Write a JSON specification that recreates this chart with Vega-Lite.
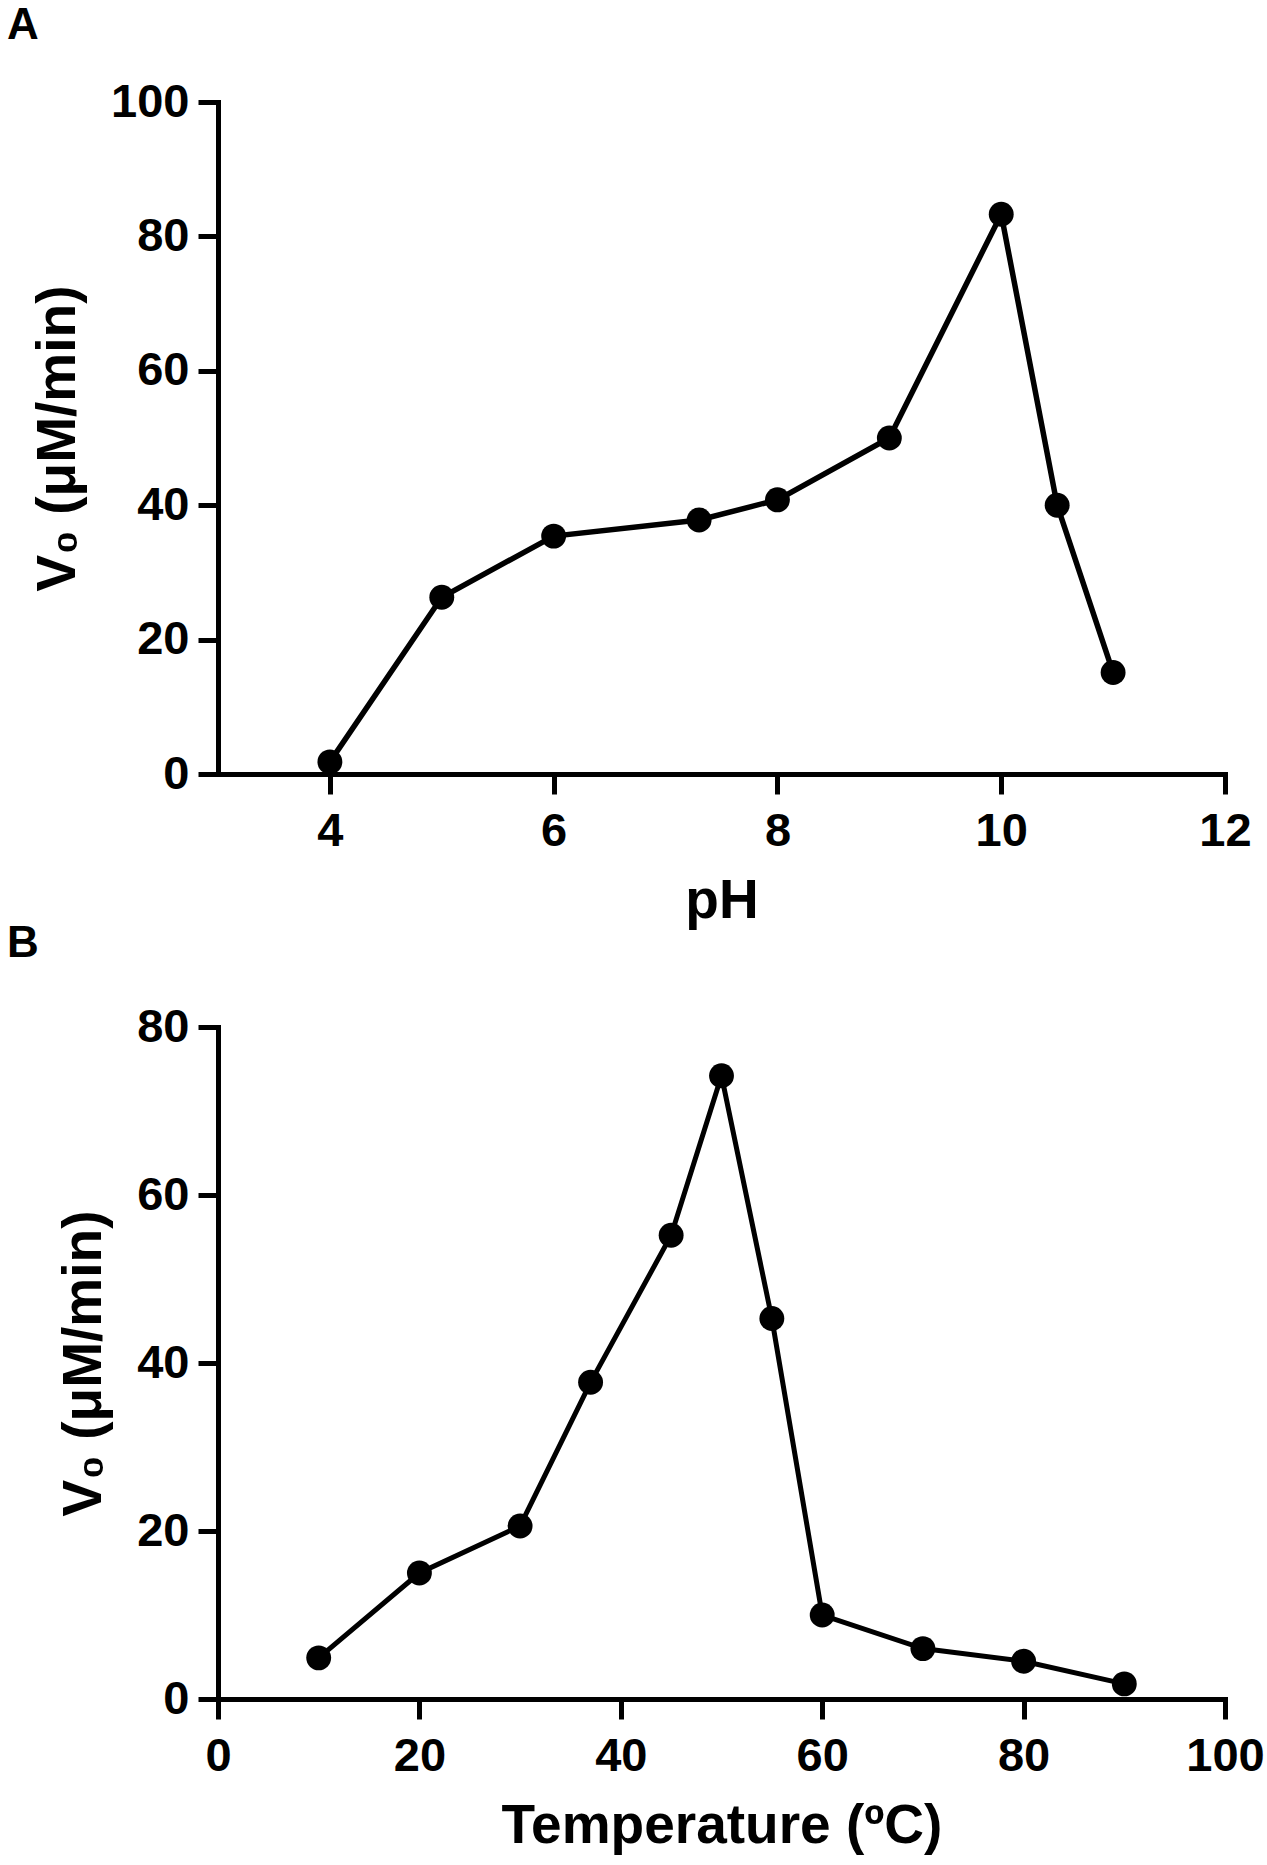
{
  "$schema": "https://vega.github.io/schema/vega-lite/v6.json",
  "background": "white",
  "padding": {"left": 7, "top": 4, "right": 10, "bottom": 5},
  "bounds": "flush",
  "spacing": 253,
  "config": {
    "font": "Liberation Sans",
    "view": {"stroke": null},
    "axis": {
      "grid": false,
      "labelFlush": false,
      "labelOverlap": false,
      "domainColor": "black",
      "domainWidth": 5,
      "domainCap": "square",
      "tickColor": "black",
      "tickWidth": 5,
      "tickSize": 20,
      "labelFont": "Liberation Sans",
      "labelFontSize": 47,
      "labelFontWeight": "bold",
      "labelColor": "black",
      "titleFont": "Liberation Sans",
      "titleFontSize": 55,
      "titleFontWeight": "bold",
      "titleColor": "black"
    },
    "axisX": {"labelPadding": 14, "titlePadding": 20},
    "axisY": {"labelPadding": 9, "titlePadding": 24},
    "title": {"font": "Liberation Sans", "fontSize": 44, "fontWeight": "bold", "color": "black", "anchor": "start", "frame": "group", "baseline": "alphabetic"}
  },
  "vconcat": [
    {
      "title": {"text": "A", "dx": -211, "offset": 30},
      "width": 1007,
      "height": 672,
      "data": {"values": [
        {"pH": 4, "v": 1.8},
        {"pH": 5, "v": 26.3},
        {"pH": 6, "v": 35.4},
        {"pH": 7.3, "v": 37.8},
        {"pH": 8, "v": 40.8},
        {"pH": 9, "v": 50.0},
        {"pH": 10, "v": 83.3},
        {"pH": 10.5, "v": 40.0},
        {"pH": 11, "v": 15.1}
      ]},
      "encoding": {
        "x": {"field": "pH", "type": "quantitative", "scale": {"domain": [3, 12], "nice": false, "zero": false}, "axis": {"values": [4, 6, 8, 10, 12], "title": "pH"}},
        "y": {"field": "v", "type": "quantitative", "scale": {"domain": [0, 100], "nice": false}, "axis": {"values": [0, 20, 40, 60, 80, 100], "title": "V₀ (μM/min)"}}
      },
      "layer": [
        {"mark": {"type": "line", "color": "black", "strokeWidth": 5.5}},
        {"mark": {"type": "point", "filled": true, "color": "black", "opacity": 1, "size": 620}}
      ]
    },
    {
      "title": {"text": "B", "dx": -211, "offset": 37},
      "width": 1007,
      "height": 672,
      "data": {"values": [
        {"t": 10, "v": 4.9},
        {"t": 20, "v": 15.0},
        {"t": 30, "v": 20.6},
        {"t": 37, "v": 37.7},
        {"t": 45, "v": 55.2},
        {"t": 50, "v": 74.2},
        {"t": 55, "v": 45.3},
        {"t": 60, "v": 10.0},
        {"t": 70, "v": 6.0},
        {"t": 80, "v": 4.5},
        {"t": 90, "v": 1.8}
      ]},
      "encoding": {
        "x": {"field": "t", "type": "quantitative", "scale": {"domain": [0, 100], "nice": false}, "axis": {"values": [0, 20, 40, 60, 80, 100], "title": "Temperature (ºC)"}},
        "y": {"field": "v", "type": "quantitative", "scale": {"domain": [0, 80], "nice": false}, "axis": {"values": [0, 20, 40, 60, 80], "title": "V₀ (μM/min)"}}
      },
      "layer": [
        {"mark": {"type": "line", "color": "black", "strokeWidth": 5}},
        {"mark": {"type": "point", "filled": true, "color": "black", "opacity": 1, "size": 620}}
      ]
    }
  ]
}
